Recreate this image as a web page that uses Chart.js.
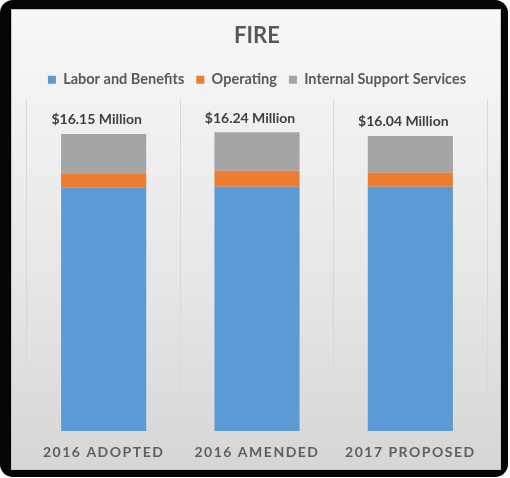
<!DOCTYPE html>
<html>
<head>
<meta charset="utf-8">
<script src="https://cdn.jsdelivr.net/npm/chart.js@4"></script>
<style>
  html, body { margin: 0; padding: 0; background: #fff; }
  #frame {
    position: absolute; left: 0; top: 0; width: 508px; height: 477px;
    background: #050505; border-radius: 13px;
  }
  #panel {
    position: absolute; left: 11px; top: 9px; width: 490px; height: 461px;
    background: linear-gradient(#f8f8f8, #e6e6e6 60%, #d6d6d6);
    border: 1px solid #c8c8c8; box-sizing: border-box;
  }
  #grafico { position: absolute; left: 0; top: 0; }
</style>
</head>
<body>
<div id="frame"><div id="panel"></div></div>
<canvas id="grafico" width="510" height="478"></canvas>
<script>
// budget by year, in millions of dollars
const categorias = ['2016 ADOPTED', '2016 AMENDED', '2017 PROPOSED'];
const laborBeneficios = [13.23, 13.28, 13.28];
const operacional = [0.78, 0.87, 0.76];
const suporteInterno = [2.14, 2.09, 2.00];

const totais = categorias.map((c, i) => laborBeneficios[i] + operacional[i] + suporteInterno[i]);

const fonte = 'Lato, "Open Sans", sans-serif';

// totals over each stack and the category names under the bars
const rotulos = {
  id: 'rotulos',
  afterInit(chart) {
    const fit = chart.legend.fit;
    chart.legend.fit = function () { fit.call(this); this.height += 3; };
  },
  afterDatasetsDraw(chart) {
    const { ctx, chartArea, scales: { x, y } } = chart;
    ctx.save();
    ctx.textAlign = 'center';
    ctx.textBaseline = 'middle';
    ctx.font = 'bold 14px ' + fonte;
    ctx.fillStyle = '#404040';
    totais.forEach((t, i) => {
      ctx.fillText('$' + t.toFixed(2) + ' Million', x.getPixelForValue(i) - 7, y.getPixelForValue(t) - 14);
    });
    ctx.letterSpacing = '1.5px';
    ctx.font = 'bold 14px ' + fonte;
    ctx.fillStyle = '#5f5f5f';
    categorias.forEach((c, i) => {
      ctx.fillText(c, x.getPixelForValue(i), chartArea.bottom + 21);
    });
    ctx.restore();
  }
};

const ctx = document.getElementById('grafico').getContext('2d');
new Chart(ctx, {
  type: 'bar',
  data: {
    labels: categorias,
    datasets: [
      { label: 'Labor and Benefits', data: laborBeneficios, backgroundColor: '#5b9bd5' },
      { label: 'Operating', data: operacional, backgroundColor: '#ed7d31' },
      { label: 'Internal Support Services', data: suporteInterno, backgroundColor: '#a5a5a5' }
    ]
  },
  options: {
    responsive: false,
    animation: false,
    layout: { padding: { top: 10, left: 27, right: 23, bottom: 47 } },
    datasets: { bar: { barPercentage: 0.555, categoryPercentage: 1 } },
    plugins: {
      title: {
        display: true,
        text: 'FIRE',
        color: '#595959',
        font: { family: fonte, size: 22, weight: 'bold' },
        padding: { top: 13, bottom: 11 }
      },
      legend: {
        position: 'top',
        labels: {
          boxWidth: 8,
          boxHeight: 8,
          padding: 12,
          color: '#595959',
          font: { family: fonte, size: 14.5, weight: 'bold' }
        }
      },
      tooltip: { enabled: false }
    },
    scales: {
      x: {
        stacked: true,
        grid: { display: true, offset: true, color: '#d9d9d9', drawTicks: false },
        border: { display: false },
        ticks: { display: false }
      },
      y: {
        stacked: true,
        display: false,
        min: 0,
        max: 18
      }
    }
  },
  plugins: [rotulos]
});
</script>
</body>
</html>
